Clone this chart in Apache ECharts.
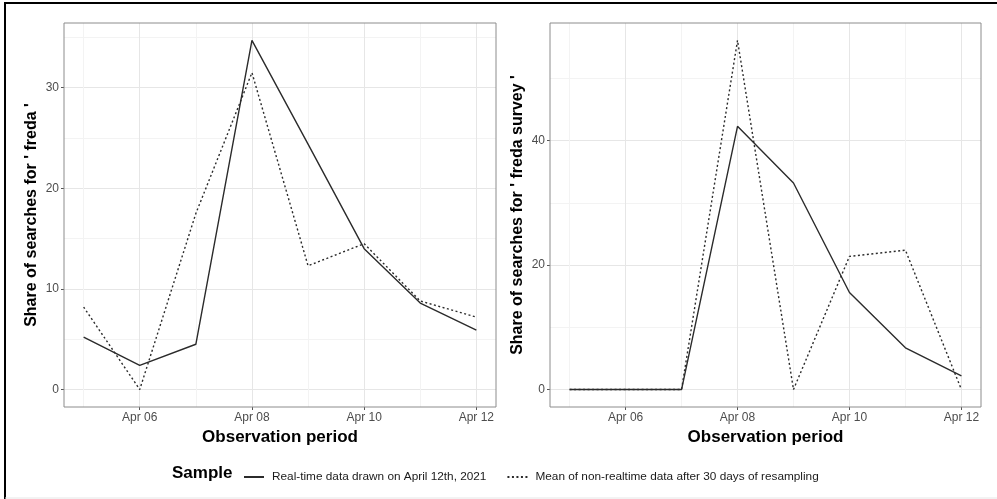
<!DOCTYPE html>
<html lang="en">
<head>
    <meta charset="UTF-8">
    <title>Share of searches</title>
    <script src="https://cdn.jsdelivr.net/npm/echarts@6/dist/echarts.min.js"></script>
    <style>
        html, body {
            margin: 0;
            height: 100%;
            background: #fff;
        }
    </style>
</head>
<body>
<!--chart container-->
<div id="main" style="width: 997px;height: 499px"></div>
</body>
</html>
<script>

    // days of April shown on the x axis
    var days = [5, 6, 7, 8, 9, 10, 11, 12];
    var dayTicks = [6, 8, 10, 12];
    var dayMinor = [5, 7, 9, 11];

    // left panel: searches for ' freda '
    var fredaRealtime = [5.2, 2.4, 4.5, 34.7, 24.4, 14.0, 8.6, 5.9];
    var fredaResampled = [8.2, 0, 17.5, 31.5, 12.3, 14.5, 8.8, 7.2];
    var fredaTicks = [0, 10, 20, 30];
    var fredaMinor = [5, 15, 25, 35];

    // right panel: searches for ' freda survey '
    var surveyRealtime = [0, 0, 0, 42.3, 33.2, 15.6, 6.7, 2.2];
    var surveyResampled = [0, 0, 0, 56.1, 0, 21.4, 22.4, 0];
    var surveyTicks = [0, 20, 40];
    var surveyMinor = [10, 30, 50];

    var nameReal = 'Real-time data drawn on April 12th, 2021';
    var nameMean = 'Mean of non-realtime data after 30 days of resampling';

    var font = 'Liberation Sans, Arial, sans-serif';
    var lineColor = '#2b2b2b';

    // ggplot style expansion of 5% on each side
    function expand(values) {
        var lo = Math.min.apply(null, values);
        var hi = Math.max.apply(null, values);
        var pad = (hi - lo) * 0.05;
        return [lo - pad, hi + pad];
    }

    function pairs(xs, ys) {
        return xs.map(function (x, i) {
            return [x, ys[i]];
        });
    }

    var xRange = expand(days);
    var fredaRange = expand(fredaRealtime.concat(fredaResampled));
    var surveyRange = expand(surveyRealtime.concat(surveyResampled));

    function mainX(gridIndex) {
        return {
            type: 'value', gridIndex: gridIndex,
            min: xRange[0], max: xRange[1],
            name: 'Observation period', nameLocation: 'middle', nameGap: 22,
            nameTextStyle: {fontFamily: font, fontWeight: 'bold', fontSize: 17, color: '#000'},
            axisLine: {show: false, onZero: false},
            axisTick: {show: true, length: 3, customValues: dayTicks, lineStyle: {color: '#555'}},
            axisLabel: {
                customValues: dayTicks, margin: 5, fontFamily: font, fontSize: 12, color: '#4d4d4d',
                formatter: function (v) {
                    return 'Apr ' + (v < 10 ? '0' + v : v);
                }
            },
            splitLine: {show: true, lineStyle: {color: '#e6e6e6', width: 1}}
        };
    }

    function minorX(gridIndex) {
        return {
            type: 'value', gridIndex: gridIndex,
            min: xRange[0], max: xRange[1],
            axisLine: {show: false, onZero: false},
            axisTick: {show: false, customValues: dayMinor},
            axisLabel: {show: false, customValues: dayMinor},
            splitLine: {show: true, lineStyle: {color: '#f3f3f3', width: 1}}
        };
    }

    function mainY(gridIndex, range, ticks, title, gap) {
        return {
            type: 'value', gridIndex: gridIndex,
            min: range[0], max: range[1],
            name: title, nameLocation: 'middle', nameGap: gap,
            nameTextStyle: {fontFamily: font, fontWeight: 'bold', fontSize: 16, color: '#000'},
            axisLine: {show: false, onZero: false},
            axisTick: {show: true, length: 3, customValues: ticks, lineStyle: {color: '#555'}},
            axisLabel: {customValues: ticks, margin: 5, fontFamily: font, fontSize: 12, color: '#4d4d4d'},
            splitLine: {show: true, lineStyle: {color: '#e6e6e6', width: 1}}
        };
    }

    function minorY(gridIndex, range, minor) {
        return {
            type: 'value', gridIndex: gridIndex,
            min: range[0], max: range[1],
            axisLine: {show: false, onZero: false},
            axisTick: {show: false, customValues: minor},
            axisLabel: {show: false, customValues: minor},
            splitLine: {show: true, lineStyle: {color: '#f3f3f3', width: 1}}
        };
    }

    function lineSeries(name, idx, values, dotted) {
        return {
            name: name, type: 'line',
            xAxisIndex: idx, yAxisIndex: idx,
            data: pairs(days, values),
            symbol: 'none', silent: true, z: 5,
            lineStyle: {color: lineColor, width: 1.4, type: dotted ? [2, 2.5] : 'solid'},
            itemStyle: {color: lineColor}
        };
    }

    var myChart = echarts.init(document.getElementById('main'));

    var option = {
        animation: false,
        backgroundColor: '#fff',
        grid: [
            {left: 64, top: 23, width: 432, height: 384, show: true, borderColor: '#8c8c8c', borderWidth: 1, backgroundColor: 'transparent', z: 4},
            {left: 550, top: 23, width: 431, height: 384, show: true, borderColor: '#8c8c8c', borderWidth: 1, backgroundColor: 'transparent', z: 4}
        ],
        xAxis: [mainX(0), mainX(1), minorX(0), minorX(1)],
        yAxis: [
            mainY(0, fredaRange, fredaTicks, "Share of searches for ' freda '", 24),
            mainY(1, surveyRange, surveyTicks, "Share of searches for ' freda survey '", 24),
            minorY(0, fredaRange, fredaMinor),
            minorY(1, surveyRange, surveyMinor)
        ],
        legend: {
            left: 238, top: 466,
            itemWidth: 20, itemHeight: 10, itemGap: 20,
            itemStyle: {opacity: 0},
            textStyle: {fontFamily: font, fontSize: 11.8, color: '#1a1a1a', padding: [0, 0, 0, 3]},
            data: [nameReal, nameMean]
        },
        series: [
            lineSeries(nameReal, 0, fredaRealtime, false),
            lineSeries(nameMean, 0, fredaResampled, true),
            lineSeries(nameReal, 1, surveyRealtime, false),
            lineSeries(nameMean, 1, surveyResampled, true)
        ],
        graphic: [
            // legend title
            {type: 'text', left: 172, top: 465, style: {text: 'Sample', font: 'bold 17px ' + font, fill: '#000'}},
            // frame of the figure
            {type: 'line', shape: {x1: 4, y1: 3, x2: 997, y2: 3}, style: {stroke: '#000', lineWidth: 2}},
            {type: 'line', shape: {x1: 5, y1: 3, x2: 5, y2: 499}, style: {stroke: '#000', lineWidth: 2}},
            {type: 'line', shape: {x1: 5, y1: 498, x2: 997, y2: 498}, style: {stroke: '#e6e6e6', lineWidth: 1}}
        ]
    };

    myChart.setOption(option);

</script>
